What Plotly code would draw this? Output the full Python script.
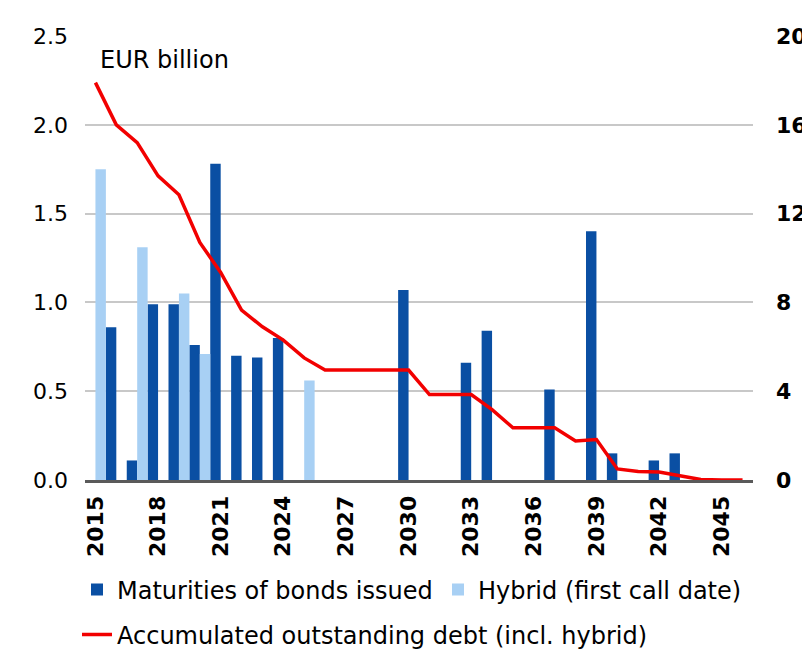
import plotly.graph_objects as go

# ---- data (EUR billion) ----
years = list(range(2015, 2047))

maturity_years = [2016, 2017, 2018, 2019, 2020, 2021, 2022, 2023, 2024,
                  2030, 2033, 2034, 2037, 2039, 2040, 2042, 2043]
maturity_values = [0.86, 0.11, 0.99, 0.99, 0.76, 1.78, 0.70, 0.69, 0.80,
                   1.07, 0.66, 0.84, 0.51, 1.40, 0.15, 0.11, 0.15]

hybrid_years = [2015, 2017, 2019, 2020, 2025]
hybrid_values = [1.75, 1.31, 1.05, 0.71, 0.56]

debt_values = [17.9, 16.0, 15.2, 13.7, 12.85, 10.7, 9.35, 7.65, 6.9, 6.3,
               5.5, 4.95, 4.95, 4.95, 4.95, 4.95, 3.85, 3.85, 3.85, 3.17,
               2.35, 2.35, 2.35, 1.76, 1.82, 0.50, 0.38, 0.36, 0.20, 0.02,
               0.0, 0.0]

tick_years = list(range(2015, 2046, 3))
left_ticks = [0.0, 0.5, 1.0, 1.5, 2.0, 2.5]
right_ticks = [0, 4, 8, 12, 16, 20]

FONT = "DejaVu Sans"
DARK = "#0a4fa3"
LIGHT = "#a8d0f4"
RED = "#f20000"

fig = go.Figure()

fig.add_trace(go.Bar(
    x=maturity_years, y=maturity_values, name="Maturities of bonds issued",
    marker=dict(color=DARK, line=dict(width=0)), width=0.5, offset=-0.5,
    yaxis="y", legend="legend", legendwidth=316))

fig.add_trace(go.Bar(
    x=hybrid_years, y=hybrid_values, name="Hybrid (first call date)",
    marker=dict(color=LIGHT, line=dict(width=0)), width=0.5, offset=0.0,
    yaxis="y", legend="legend"))

fig.add_trace(go.Scatter(
    x=years, y=debt_values, name="Accumulated outstanding debt (incl. hybrid)",
    mode="lines", line=dict(color=RED, width=3.5), yaxis="y2",
    legend="legend2"))

legend_font = dict(family=FONT, size=24, color="black")

W, H = 802, 647  # the page body adds an 8px offset, so the figure is 8px smaller

fig.update_layout(
    width=W, height=H,
    margin=dict(l=77, r=57, t=28, b=175),
    paper_bgcolor="white", plot_bgcolor="white",
    barmode="overlay",
    font=dict(family=FONT, size=22, color="black"),
    showlegend=True,
    legend=dict(orientation="h", xref="container", x=69 / W, xanchor="left",
                yref="container", y=1 - 582 / H, yanchor="middle",
                font=legend_font, traceorder="normal", itemwidth=30,
                bgcolor="rgba(0,0,0,0)"),
    legend2=dict(orientation="h", xref="container", x=69 / W, xanchor="left",
                 yref="container", y=1 - 627 / H, yanchor="middle",
                 font=legend_font, itemwidth=30,
                 bgcolor="rgba(0,0,0,0)"),
    xaxis=dict(range=[2014.5, 2046.5], tickmode="array", tickvals=tick_years,
               ticktext=[str(y) for y in tick_years], tickangle=-90,
               tickfont=dict(family=FONT, size=22, color="black", weight="bold"),
               showline=True, linecolor="#5a5a5a", linewidth=3, ticks="",
               showgrid=False, zeroline=False, layer="below traces",
               ticklabelstandoff=4, automargin=False),
    yaxis=dict(range=[0, 2.5], tickmode="array", tickvals=left_ticks,
               ticktext=[f"{v:.1f}" for v in left_ticks],
               showgrid=True, gridcolor="#c8c8c8", gridwidth=2,
               zeroline=False, showline=False, ticks="",
               tickfont=dict(family=FONT, size=22, color="black"),
               ticklabelstandoff=16, automargin=False),
    yaxis2=dict(range=[0, 20], tickmode="array", tickvals=right_ticks,
                overlaying="y", side="right", showgrid=False, zeroline=False,
                showline=False, ticks="",
                tickfont=dict(family=FONT, size=22, color="black", weight="bold"),
                ticklabelstandoff=22, automargin=False),
    annotations=[dict(text="EUR billion", xref="paper", yref="paper",
                      x=0.02, y=0.945, xanchor="left", yanchor="middle",
                      showarrow=False,
                      font=dict(family=FONT, size=24, color="black"))],
)

fig.write_html("out.html")
